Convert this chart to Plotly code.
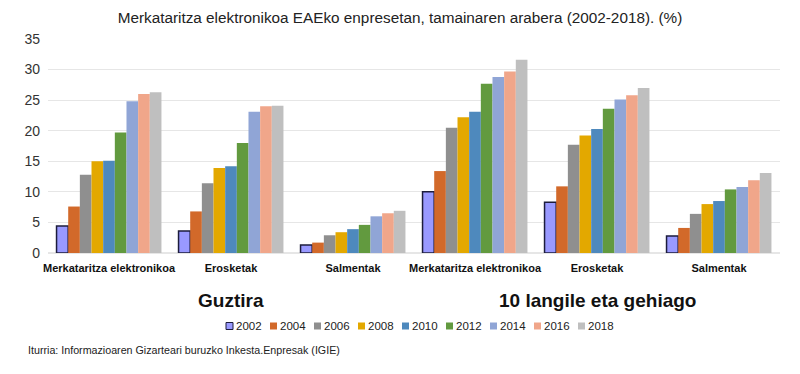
import plotly.graph_objects as go

categories = ["Merkataritza elektronikoa", "Erosketak", "Salmentak",
              "Merkataritza elektronikoa", "Erosketak", "Salmentak"]
groups = ["Guztira", "10 langile eta gehiago"]
years = ["2002", "2004", "2006", "2008", "2010", "2012", "2014", "2016", "2018"]

v2002 = [4.4, 3.6, 1.3, 10.0, 8.3, 2.8]
v2004 = [7.6, 6.8, 1.7, 13.4, 10.9, 4.1]
v2006 = [12.8, 11.4, 2.9, 20.5, 17.7, 6.4]
v2008 = [15.0, 13.9, 3.4, 22.2, 19.2, 8.0]
v2010 = [15.1, 14.2, 3.9, 23.1, 20.3, 8.5]
v2012 = [19.7, 18.0, 4.6, 27.7, 23.6, 10.4]
v2014 = [24.8, 23.1, 6.0, 28.8, 25.1, 10.8]
v2016 = [26.0, 24.0, 6.5, 29.7, 25.8, 11.9]
v2018 = [26.3, 24.1, 6.9, 31.6, 27.0, 13.1]

series = [v2002, v2004, v2006, v2008, v2010, v2012, v2014, v2016, v2018]
colors = ["#9999FF", "#D2692A", "#8F8F8F", "#E3A800", "#4E89BD",
          "#629A3F", "#90A5D6", "#F0A68A", "#BFBFBF"]
outline = "#1C1C3C"

W, H = 800, 374
OFF = 8  # page body margin offset of the plot div
# plot area in page pixel coordinates
PL, PR, PT, PB = 48, 780, 39, 253
ML, MT = PL - OFF, PT - OFF
MR, MB = W - (PR - OFF), H - (PB - OFF)
PW, PH = PR - PL, PB - PT


def px_x(px):
    return (px - PL) / PW


def px_y(py):
    return (PB - py) / PH


xpos = list(range(len(categories)))

fig = go.Figure()
for i, (yr, vals) in enumerate(zip(years, series)):
    line = dict(color=outline, width=1.5) if i == 0 else dict(width=0)
    fig.add_trace(go.Bar(x=xpos, y=vals, name=yr, showlegend=False,
                         marker=dict(color=colors[i], line=line)))

fig.update_layout(
    width=W, height=H,
    margin=dict(l=ML, r=MR, t=MT, b=MB, autoexpand=False),
    paper_bgcolor="white", plot_bgcolor="white",
    barmode="group", bargap=0.14, bargroupgap=0,
    font=dict(family="Liberation Sans, Arial, sans-serif", color="#222222"),
    title=dict(text="Merkataritza elektronikoa EAEko enpresetan, tamainaren arabera (2002-2018). (%)",
               x=(400 - OFF) / W, xref="container", xanchor="center",
               y=1 - (18 - OFF) / H, yanchor="middle",
               font=dict(size=15.3, color="#222222")),
    showlegend=False,
)
fig.update_xaxes(tickvals=xpos, ticktext=categories, range=[-0.5, len(categories) - 0.5],
                 showgrid=False, zeroline=False, showline=False, ticks="",
                 automargin=False, ticklabelstandoff=7,
                 tickfont=dict(family="Liberation Sans, Arial", size=11,
                               color="#111111", weight="bold"))
fig.update_yaxes(range=[0, 35], dtick=5, showgrid=True, gridcolor="#E6E6E6", gridwidth=1,
                 zeroline=True, zerolinecolor="#E6E6E6", showline=False, ticks="",
                 automargin=False, ticklabelstandoff=7,
                 tickfont=dict(size=14, color="#333333"))

for gi, g in enumerate(groups):
    fig.add_annotation(text="<b>" + g + "</b>", x=1 + 3 * gi, xref="x",
                       y=px_y(300), yref="paper", yanchor="middle", xanchor="center",
                       showarrow=False, font=dict(size=19, color="#111111"))

# custom compact legend
leg_x0, leg_pitch, leg_y, sq = 226, 44, 326, 7
for i, yr in enumerate(years):
    x0 = leg_x0 + i * leg_pitch
    fig.add_shape(type="rect", xref="paper", yref="paper",
                  x0=px_x(x0), x1=px_x(x0 + sq),
                  y0=px_y(leg_y + sq / 2), y1=px_y(leg_y - sq / 2),
                  fillcolor=colors[i],
                  line=dict(color=outline, width=1) if i == 0 else dict(width=0))
    fig.add_annotation(text=yr, xref="paper", yref="paper",
                       x=px_x(x0 + sq + 1), xanchor="left",
                       y=px_y(leg_y), yanchor="middle", showarrow=False,
                       font=dict(size=11.5, color="#222222"))

fig.add_annotation(text="Iturria: Informazioaren Gizarteari buruzko Inkesta.Enpresak (IGIE)",
                   x=px_x(26), xref="paper", xanchor="left",
                   y=px_y(350), yref="paper", yanchor="middle",
                   showarrow=False, font=dict(size=10.7, color="#222222"))

fig.write_html("out.html")
